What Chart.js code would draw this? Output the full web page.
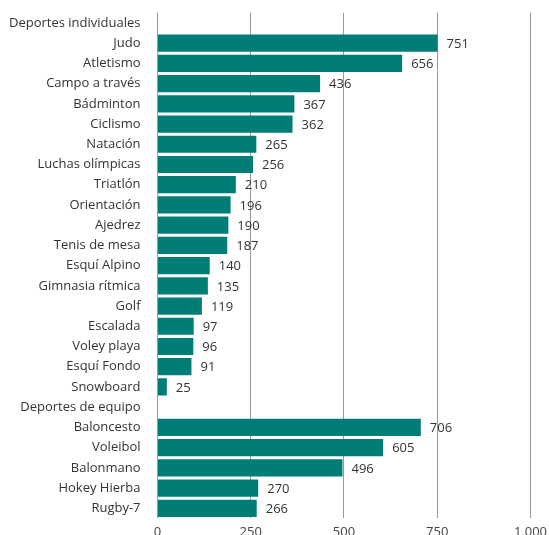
<!DOCTYPE html>
<html>
<head>
<meta charset="utf-8">
<script src="https://cdn.jsdelivr.net/npm/chart.js@4"></script>
<style>
  html, body { margin: 0; padding: 0; background: #fff; overflow: hidden; }
  #wrap { width: 553px; height: 550px; margin-top: -4px; position: relative; }
</style>
</head>
<body>
<div id="wrap"><canvas id="sportsChart"></canvas></div>
<script>
const categories = [
  'Deportes individuales', 'Judo', 'Atletismo', 'Campo a través', 'Bádminton', 'Ciclismo',
  'Natación', 'Luchas olímpicas', 'Triatlón', 'Orientación', 'Ajedrez', 'Tenis de mesa',
  'Esquí Alpino', 'Gimnasia rítmica', 'Golf', 'Escalada', 'Voley playa', 'Esquí Fondo',
  'Snowboard', 'Deportes de equipo', 'Baloncesto', 'Voleibol', 'Balonmano', 'Hokey Hierba', 'Rugby-7'
];

const values = [
  null, 751, 656, 436, 367, 362, 265, 256, 210, 196, 190, 187, 140, 135, 119, 97, 96, 91, 25,
  null, 706, 605, 496, 270, 266
];

const xTicks = [0, 250, 500, 750, 1000];

const ctx = document.getElementById('sportsChart');

// draws the number to the right of each bar
const valueLabels = {
  id: 'valueLabels',
  afterDatasetsDraw(chart) {
    const c = chart.ctx;
    const meta = chart.getDatasetMeta(0);
    c.save();
    c.font = '13px "Open Sans"';
    c.fillStyle = '#333';
    c.textAlign = 'left';
    c.textBaseline = 'middle';
    meta.data.forEach((bar, i) => {
      const v = values[i];
      if (v == null) return;
      c.fillText(String(v), bar.x + 9, bar.y + 1);
    });
    c.restore();
  }
};

new Chart(ctx, {
  type: 'bar',
  data: {
    labels: categories,
    datasets: [{
      data: values,
      backgroundColor: '#007d76',
      borderWidth: 0,
      barPercentage: 0.85,
      categoryPercentage: 1.0
    }]
  },
  options: {
    indexAxis: 'y',
    responsive: true,
    maintainAspectRatio: false,
    animation: false,
    layout: { padding: { top: 3, right: 11, left: 0, bottom: 0 } },
    plugins: {
      legend: { display: false },
      tooltip: { enabled: false }
    },
    scales: {
      x: {
        min: 0,
        max: 1000,
        afterBuildTicks: (axis) => { axis.ticks = xTicks.map(v => ({ value: v })); },
        grid: { color: '#9a9a9a', lineWidth: 1, drawTicks: false },
        border: { display: false },
        ticks: {
          color: '#444',
          font: { family: 'Open Sans', size: 13 },
          padding: 6,
          callback: (v) => v.toLocaleString('en-US')
        }
      },
      y: {
        grid: { display: false },
        border: { display: false },
        ticks: {
          color: '#333',
          font: { family: 'Open Sans', size: 13 },
          padding: 9,
          autoSkip: false
        }
      }
    }
  },
  plugins: [valueLabels]
});
</script>
</body>
</html>
